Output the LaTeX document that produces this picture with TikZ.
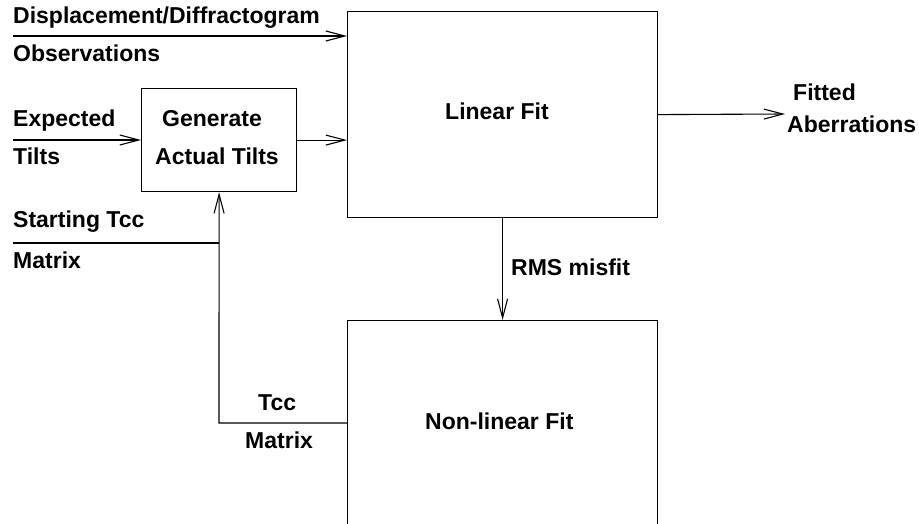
\documentclass[tikz,border=0pt]{standalone}
\usepackage{fontspec}
\setmainfont{Liberation Sans}
\usetikzlibrary{arrows.meta}

\begin{document}
\begin{tikzpicture}[x=1pt, y=-1pt,
  every node/.style={font=\fontsize{23}{27}\selectfont\bfseries, inner sep=0pt},
  box/.style={draw, line width=1.2pt, rectangle, anchor=north west},
  lbl/.style={anchor=base west},
  wire/.style={line width=1.1pt},
  arr/.style={wire, -{Straight Barb[length=19pt, width=10pt, line width=1.1pt]}}]

  % canvas
  \useasboundingbox (0,0) rectangle (919,524);
  \clip (0,0) rectangle (919,524);

  % blocks
  \node[box, minimum width=310pt, minimum height=206pt] (lin) at (347,11) {};
  \node[box, minimum width=155pt, minimum height=103pt] (gen) at (141,88) {};
  \node[box, minimum width=310pt, minimum height=230pt] (nl) at (347,320) {};

  % block captions
  \node[lbl] (lintxt) at (445,120) {Linear Fit};
  \node[lbl] (nltxt)  at (425,429) {Non-linear Fit};
  \node[lbl] (gentxt1) at (162,127) {Generate};
  \node[lbl] (gentxt2) at (155,165) {Actual Tilts};

  % input labels
  \node[lbl] (obs1) at (13,24)  {Displacement/Diffractogram};
  \node[lbl] (obs2) at (13,62)  {Observations};
  \node[lbl] (exp1) at (13,127) {Expected};
  \node[lbl] (exp2) at (13,165) {Tilts};
  \node[lbl] (st1)  at (13,228) {Starting Tcc};
  \node[lbl] (st2)  at (13,268) {Matrix};

  % connector labels
  \node[lbl] (tcc1) at (258,410) {Tcc};
  \node[lbl] (tcc2) at (245,448) {Matrix};
  \node[lbl] (rms)  at (511,275) {RMS misfit};
  \node[lbl] (fit1) at (793,101) {Fitted};
  \node[lbl] (fit2) at (787,133) {Aberrations};

  % connector end points
  \coordinate (obsin) at (13,36);
  \coordinate (expin) at (13,140);
  \coordinate (tccin) at (13,243);
  \coordinate (bend)  at (219,423);
  \coordinate (fitout) at (785,114);

  % connectors
  \draw[arr] (obsin) -- (obsin -| lin.west);
  \draw[arr] (expin) -- (expin -| gen.west);
  \draw[arr] (gen.east) -- (gen.east -| lin.west);
  \draw[arr] (lin.east) -- (fitout);
  \draw[arr] (lin.south) -- (nl.north);
  \draw[wire] (tccin) -- (tccin -| bend);
  \draw[arr] (nl.west |- bend) -- (bend) -- (gen.south);
\end{tikzpicture}
\end{document}
